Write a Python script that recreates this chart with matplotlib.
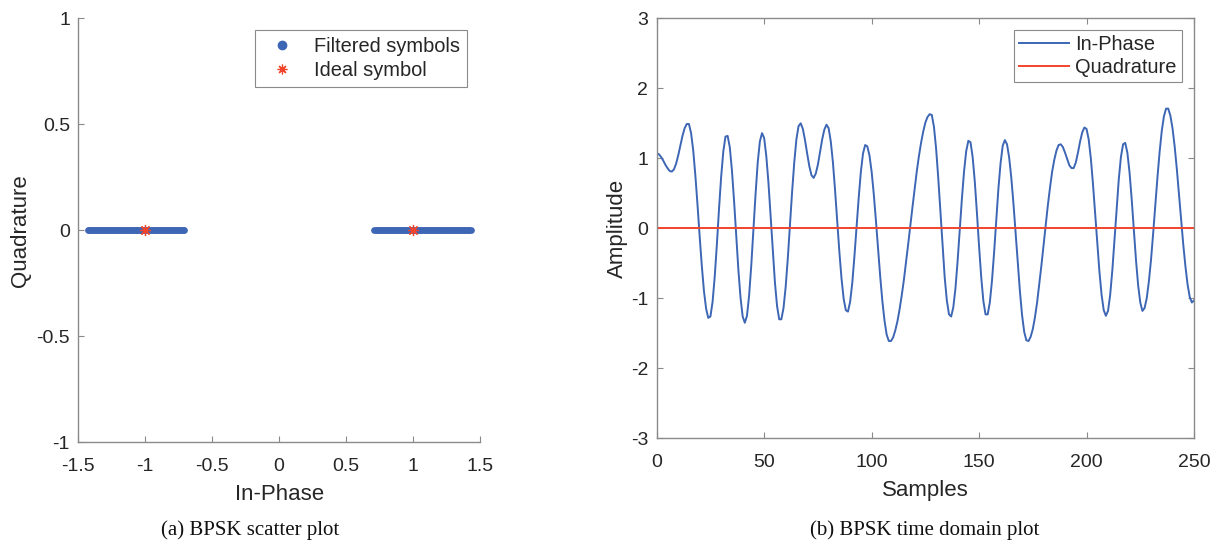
import matplotlib
matplotlib.use("Agg")
import matplotlib.pyplot as plt

plt.rcParams['font.family'] = ['Liberation Sans', 'DejaVu Sans']
plt.rcParams['axes.unicode_minus'] = False

# ---------------- data ----------------
filtered_i_neg = [-1.43, -1.42, -1.41, -1.40, -1.39, -1.38, -1.37, -1.36, -1.35, -1.34,
                  -1.33, -1.32, -1.31, -1.30, -1.29, -1.28, -1.27, -1.26, -1.25, -1.24,
                  -1.23, -1.22, -1.21, -1.20, -1.19, -1.18, -1.17, -1.16, -1.15, -1.14,
                  -1.13, -1.12, -1.11, -1.10, -1.09, -1.08, -1.07, -1.06, -1.05, -1.04,
                  -1.03, -1.02, -1.01, -1.00, -0.99, -0.98, -0.97, -0.96, -0.95, -0.94,
                  -0.93, -0.92, -0.91, -0.90, -0.89, -0.88, -0.87, -0.86, -0.85, -0.84,
                  -0.83, -0.82, -0.81, -0.80, -0.79, -0.78, -0.77, -0.76, -0.75, -0.74,
                  -0.73, -0.72, -0.71]
filtered_i_pos = [0.71, 0.72, 0.73, 0.74, 0.75, 0.76, 0.77, 0.78, 0.79, 0.80,
                  0.81, 0.82, 0.83, 0.84, 0.85, 0.86, 0.87, 0.88, 0.89, 0.90,
                  0.91, 0.92, 0.93, 0.94, 0.95, 0.96, 0.97, 0.98, 0.99, 1.00,
                  1.01, 1.02, 1.03, 1.04, 1.05, 1.06, 1.07, 1.08, 1.09, 1.10,
                  1.11, 1.12, 1.13, 1.14, 1.15, 1.16, 1.17, 1.18, 1.19, 1.20,
                  1.21, 1.22, 1.23, 1.24, 1.25, 1.26, 1.27, 1.28, 1.29, 1.30,
                  1.31, 1.32, 1.33, 1.34, 1.35, 1.36, 1.37, 1.38, 1.39, 1.40,
                  1.41, 1.42, 1.43]
filtered_q = [0.0] * (len(filtered_i_neg) + len(filtered_i_pos))
ideal_i = [-1.0, 1.0]
ideal_q = [0.0, 0.0]

in_phase = [
    1.07, 1.06, 1.02, 0.97, 0.91, 0.86, 0.82, 0.81,
    0.84, 0.92, 1.04, 1.18, 1.32, 1.43, 1.49,
    1.49, 1.36, 1.11, 0.75, 0.33, -0.12, -0.54, -0.90, -1.15, -1.28,
    -1.26, -1.05, -0.69, -0.23, 0.28, 0.74, 1.10, 1.31,
    1.32, 1.16, 0.83, 0.39, -0.11, -0.59, -0.99, -1.26, -1.35,
    -1.25, -0.96, -0.53, -0.02, 0.49, 0.94, 1.24, 1.36,
    1.29, 1.03, 0.65, 0.17, -0.33, -0.77, -1.11, -1.30,
    -1.30, -1.14, -0.84, -0.43, 0.04, 0.52, 0.94, 1.27, 1.46,
    1.50, 1.42, 1.26, 1.07, 0.89, 0.76,
    0.72, 0.78, 0.91, 1.09, 1.27, 1.41, 1.48,
    1.43, 1.24, 0.94, 0.54, 0.09, -0.34, -0.72, -1.01, -1.17,
    -1.19, -1.05, -0.78, -0.40, 0.02, 0.44, 0.81, 1.07, 1.19,
    1.17, 1.04, 0.81, 0.49, 0.11, -0.29, -0.69, -1.04, -1.32, -1.52, -1.61,
    -1.61, -1.56, -1.46, -1.33, -1.16, -0.96, -0.74, -0.49, -0.23, 0.04,
    0.30, 0.56, 0.81, 1.03, 1.22, 1.38, 1.51, 1.59, 1.63,
    1.62, 1.45, 1.14, 0.72, 0.24, -0.26, -0.70, -1.03, -1.23,
    -1.26, -1.13, -0.86, -0.47, -0.03, 0.42, 0.81, 1.10, 1.25,
    1.23, 1.02, 0.67, 0.22, -0.26, -0.70, -1.04, -1.23,
    -1.23, -1.06, -0.75, -0.34, 0.12, 0.57, 0.93, 1.18, 1.26,
    1.20, 1.01, 0.72, 0.35, -0.07, -0.50, -0.90, -1.24, -1.48, -1.60,
    -1.61, -1.55, -1.44, -1.27, -1.06, -0.80, -0.53, -0.24, 0.05, 0.33,
    0.58, 0.81, 0.98, 1.11, 1.19,
    1.20, 1.16, 1.08, 0.99, 0.90, 0.86,
    0.86, 0.94, 1.08, 1.24, 1.37, 1.44,
    1.42, 1.27, 1.00, 0.63, 0.21, -0.22, -0.62, -0.95, -1.17, -1.25,
    -1.18, -0.95, -0.60, -0.17, 0.28, 0.70, 1.02, 1.20,
    1.22, 1.08, 0.80, 0.42, -0.02, -0.45, -0.81, -1.06, -1.18,
    -1.14, -1.00, -0.76, -0.45, -0.07, 0.33, 0.73, 1.09, 1.39, 1.60, 1.71,
    1.71, 1.61, 1.43, 1.17, 0.85, 0.49, 0.12, -0.23, -0.54, -0.80, -0.98, -1.06, -1.03,
]
samples = list(range(len(in_phase)))
quadrature = [0.0] * len(in_phase)

x_ticks_a = [-1.5, -1, -0.5, 0, 0.5, 1, 1.5]
x_tick_labels_a = ['-1.5', '-1', '-0.5', '0', '0.5', '1', '1.5']
y_ticks_a = [-1, -0.5, 0, 0.5, 1]
y_tick_labels_a = ['-1', '-0.5', '0', '0.5', '1']
x_ticks_b = [0, 50, 100, 150, 200, 250]
y_ticks_b = [-3, -2, -1, 0, 1, 2, 3]

# ---------------- styling ----------------
BLUE = '#3D66B5'
RED = '#F2452B'
SPINE = '#8a8a8a'
TXT = '#262626'
W, H = 1222, 545

fig = plt.figure(figsize=(W / 100, H / 100), dpi=100)

def px_axes(l, t, r, b):
    return fig.add_axes([l / W, 1 - b / H, (r - l) / W, (b - t) / H])

def style(ax, box):
    for s in ax.spines.values():
        s.set_color(SPINE)
        s.set_linewidth(1.0)
    if not box:
        ax.spines['top'].set_visible(False)
        ax.spines['right'].set_visible(False)
    ax.tick_params(direction='in', length=4, width=0.8, color=SPINE,
                   labelsize=14, labelcolor=TXT, top=box, right=box)
    ax.tick_params(axis='x', pad=11)
    ax.tick_params(axis='y', pad=6)

# (a) scatter
ax1 = px_axes(78.3, 18.3, 480, 442.3)
ax1.plot(filtered_i_neg + filtered_i_pos, filtered_q, linestyle='none', marker='o',
         markersize=3.8, color=BLUE, label='Filtered symbols', zorder=2)
ax1.plot(ideal_i, ideal_q, linestyle='none', marker=(8, 2, 0), markersize=8,
         markeredgewidth=0.9, color=RED, label='Ideal symbol', zorder=3)
ax1.set_xlim(-1.5, 1.5)
ax1.set_ylim(-1, 1)
ax1.set_xticks(x_ticks_a)
ax1.set_xticklabels(x_tick_labels_a)
ax1.set_yticks(y_ticks_a)
ax1.set_yticklabels(y_tick_labels_a)
style(ax1, box=False)
ax1.set_xlabel('In-Phase', fontsize=16, color=TXT, labelpad=7)
ax1.set_ylabel('Quadrature', fontsize=16, color=TXT, labelpad=4)
leg1 = ax1.legend(loc='upper right', bbox_to_anchor=(0.967, 0.972), fontsize=14.4,
                  frameon=True, fancybox=False, edgecolor=SPINE, framealpha=1,
                  borderpad=0.35, handletextpad=0.6, borderaxespad=0,
                  handlelength=2.0, labelspacing=0.25)
leg1.get_frame().set_linewidth(0.8)
leg1.legend_handles[0].set_markersize(6)
leg1.legend_handles[1].set_markersize(7)
for t in leg1.get_texts():
    t.set_color(TXT)

# (b) time domain
ax2 = px_axes(656.7, 18.3, 1194, 438.3)
ax2.plot(samples, in_phase, color=BLUE, linewidth=1.4, label='In-Phase')
ax2.plot(samples, quadrature, color=RED, linewidth=1.4, label='Quadrature')
ax2.set_xlim(0, 250)
ax2.set_ylim(-3, 3)
ax2.set_xticks(x_ticks_b)
ax2.set_yticks(y_ticks_b)
style(ax2, box=True)
ax2.set_xlabel('Samples', fontsize=16, color=TXT, labelpad=7)
ax2.set_ylabel('Amplitude', fontsize=16, color=TXT, labelpad=2)
leg2 = ax2.legend(loc='upper right', bbox_to_anchor=(0.977, 0.972), fontsize=14.4,
                  frameon=True, fancybox=False, edgecolor=SPINE, framealpha=1,
                  borderpad=0.25, handletextpad=0.3, borderaxespad=0,
                  handlelength=2.5, labelspacing=0.2)
leg2.get_frame().set_linewidth(0.8)
for t in leg2.get_texts():
    t.set_color(TXT)

# captions
fig.text(250 / W, 1 - 530 / H, '(a) BPSK scatter plot', ha='center', va='center',
         fontsize=15, family=['Liberation Serif', 'DejaVu Serif'], color='#111111')
fig.text(925 / W, 1 - 530 / H, '(b) BPSK time domain plot', ha='center', va='center',
         fontsize=15, family=['Liberation Serif', 'DejaVu Serif'], color='#111111')

fig.savefig('out.png', dpi=100)
